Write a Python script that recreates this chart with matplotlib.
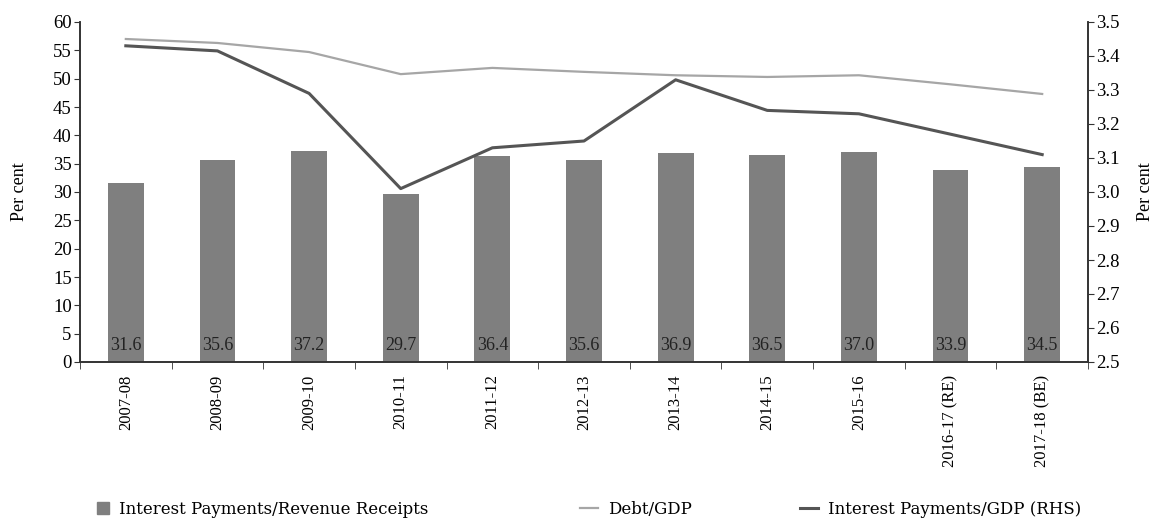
import matplotlib
matplotlib.use("Agg")
import matplotlib.pyplot as plt
import numpy as np
from matplotlib.patches import Patch
from matplotlib.lines import Line2D

categories = ["2007-08", "2008-09", "2009-10", "2010-11", "2011-12", "2012-13",
              "2013-14", "2014-15", "2015-16", "2016-17 (RE)", "2017-18 (BE)"]
ip_rr = [31.6, 35.6, 37.2, 29.7, 36.4, 35.6, 36.9, 36.5, 37.0, 33.9, 34.5]
debt_gdp = [57.0, 56.3, 54.7, 50.8, 51.9, 51.2, 50.6, 50.3, 50.6, 49.0, 47.3]
ip_gdp = [3.43, 3.415, 3.29, 3.01, 3.13, 3.15, 3.33, 3.24, 3.23, 3.17, 3.11]
left_ticks = list(range(0, 61, 5))
right_ticks = [2.5, 2.6, 2.7, 2.8, 2.9, 3.0, 3.1, 3.2, 3.3, 3.4, 3.5]

plt.rcParams['font.family'] = ['Liberation Serif', 'DejaVu Serif']
fig = plt.figure(figsize=(11.57, 5.19), dpi=100)
ax = fig.add_axes([80/1157, 1-362/519, 1008/1157, 340/519])
ax2 = ax.twinx()

x = np.arange(len(categories))
ax.bar(x, ip_rr, width=0.39, color='#7f7f7f', zorder=2)
for xi, v in zip(x, ip_rr):
    ax.text(xi, 3.0, f"{v:.1f}", ha='center', va='center', fontsize=13, color='#222222', zorder=3)
ax.plot(x, debt_gdp, color='#a6a6a6', lw=1.6, zorder=3)
ax2.plot(x, ip_gdp, color='#555555', lw=2.2, zorder=3)

ax.set_xlim(-0.5, len(categories) - 0.5)
ax.set_ylim(0, 60)
ax2.set_ylim(2.5, 3.5)
ax.set_yticks(left_ticks)
ax2.set_yticks(right_ticks)
ax2.set_yticklabels([f"{t:.1f}" for t in right_ticks])
ax.set_xticks(x)
ax.set_xticklabels(categories, rotation=90, fontsize=12)
ax.set_xticks(np.arange(-0.5, len(categories) + 0.5, 1), minor=True)
ax.tick_params(axis='x', which='major', length=0, pad=9)
ax.tick_params(axis='x', which='minor', length=5, direction='out', color='#333333')
ax.tick_params(axis='y', length=4, direction='out', labelsize=13.5, color='#333333', pad=2)
ax2.tick_params(axis='y', length=4, direction='out', labelsize=13.5, color='#333333', pad=2)

for a in (ax, ax2):
    a.spines['top'].set_visible(False)
    for s in ('left', 'right', 'bottom'):
        a.spines[s].set_color('#333333')
        a.spines[s].set_linewidth(1.2)

ax.set_ylabel("Per cent", fontsize=13, labelpad=18)
ax2.set_ylabel("Per cent", fontsize=13, labelpad=12)

handles = [Patch(color='#7f7f7f'),
           Line2D([], [], color='#a6a6a6', lw=1.6),
           Line2D([], [], color='#555555', lw=2.2)]
labels = ["Interest Payments/Revenue Receipts", "Debt/GDP", "Interest Payments/GDP (RHS)"]
xpos = [92, 575, 795]
hlens = [0.7, 1.1, 1.1]
for h, l, xp, hl in zip(handles, labels, xpos, hlens):
    fig.legend([h], [l], loc='center left', bbox_to_anchor=(xp/1157, 1-509/519),
               frameon=False, handlelength=hl, handletextpad=0.6,
               borderaxespad=0, borderpad=0.3, prop={'family': 'DejaVu Serif', 'size': 12})

fig.savefig("out.png", dpi=100)
